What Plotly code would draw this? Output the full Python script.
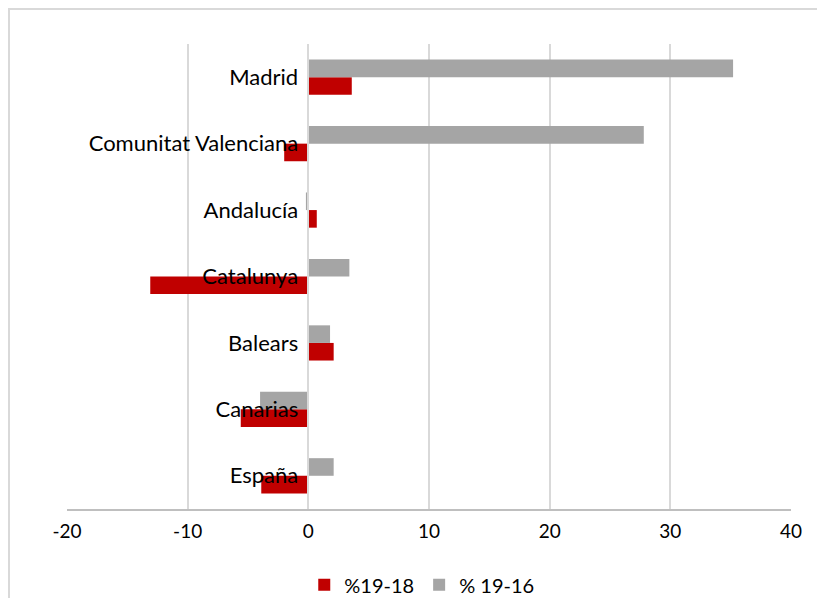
import plotly.graph_objects as go

categories = ["España", "Canarias", "Balears", "Catalunya", "Andalucía", "Comunitat Valenciana", "Madrid"]
pct_19_18 = [-3.9, -5.6, 2.1, -13.1, 0.7, -2.0, 3.6]
pct_19_16 = [2.1, -4.0, 1.8, 3.4, -0.2, 27.8, 35.2]
series_names = ["%19-18", "% 19-16"]
x_ticks = [-20, -10, 0, 10, 20, 30, 40]
x_tick_labels = ["-20", "-10", "0", "10", "20", "30", "40"]

FONT = "Lato"

fig = go.Figure()
fig.add_trace(go.Bar(y=categories, x=pct_19_18, orientation="h", name=series_names[0],
                     marker=dict(color="#C00000", line=dict(width=0))))
fig.add_trace(go.Bar(y=categories, x=pct_19_16, orientation="h", name=series_names[1],
                     marker=dict(color="#A5A5A5", line=dict(width=0))))

# chart-area border: only the left and top edges are visible in the reference
bx0 = (9 - 67) / 724
by1 = (509 - 9) / 465
border_path = f"M {bx0},-0.4 L {bx0},{by1} L 1.3,{by1}"

# page body has an 8px margin: compensate so the plot area lands at 67..791 x 44..509
fig.update_layout(
    width=809, height=590,
    margin=dict(l=59, r=26, t=36, b=89, autoexpand=False),
    paper_bgcolor="white", plot_bgcolor="white",
    barmode="group", bargap=0.47, bargroupgap=0,
    font=dict(family=FONT, size=20, color="#000000"),
    showlegend=True,
    legend=dict(orientation="h", x=0.49, xanchor="center", y=-0.163, yanchor="middle",
                font=dict(family=FONT, size=20), traceorder="normal"),
    xaxis=dict(range=[-20, 40], tickvals=x_ticks, ticktext=x_tick_labels,
               showgrid=True, gridcolor="#D9D9D9", gridwidth=1.5,
               zeroline=False, showline=True, linecolor="#BFBFBF", linewidth=1.5,
               ticks="", ticklabelstandoff=4, tickfont=dict(family=FONT, size=19), fixedrange=True),
    yaxis=dict(type="category", categoryorder="array", categoryarray=categories,
               range=[-0.5, 6.5], anchor="free", position=1/3, showline=True,
               linecolor="#D9D9D9", linewidth=1.5, showgrid=False, ticks="",
               ticklabelstandoff=5, tickfont=dict(family=FONT, size=22)),
    shapes=[dict(type="path", xref="paper", yref="paper", path=border_path,
                 line=dict(color="#D9D9D9", width=2), layer="below")],
)

fig.write_html("out.html")
